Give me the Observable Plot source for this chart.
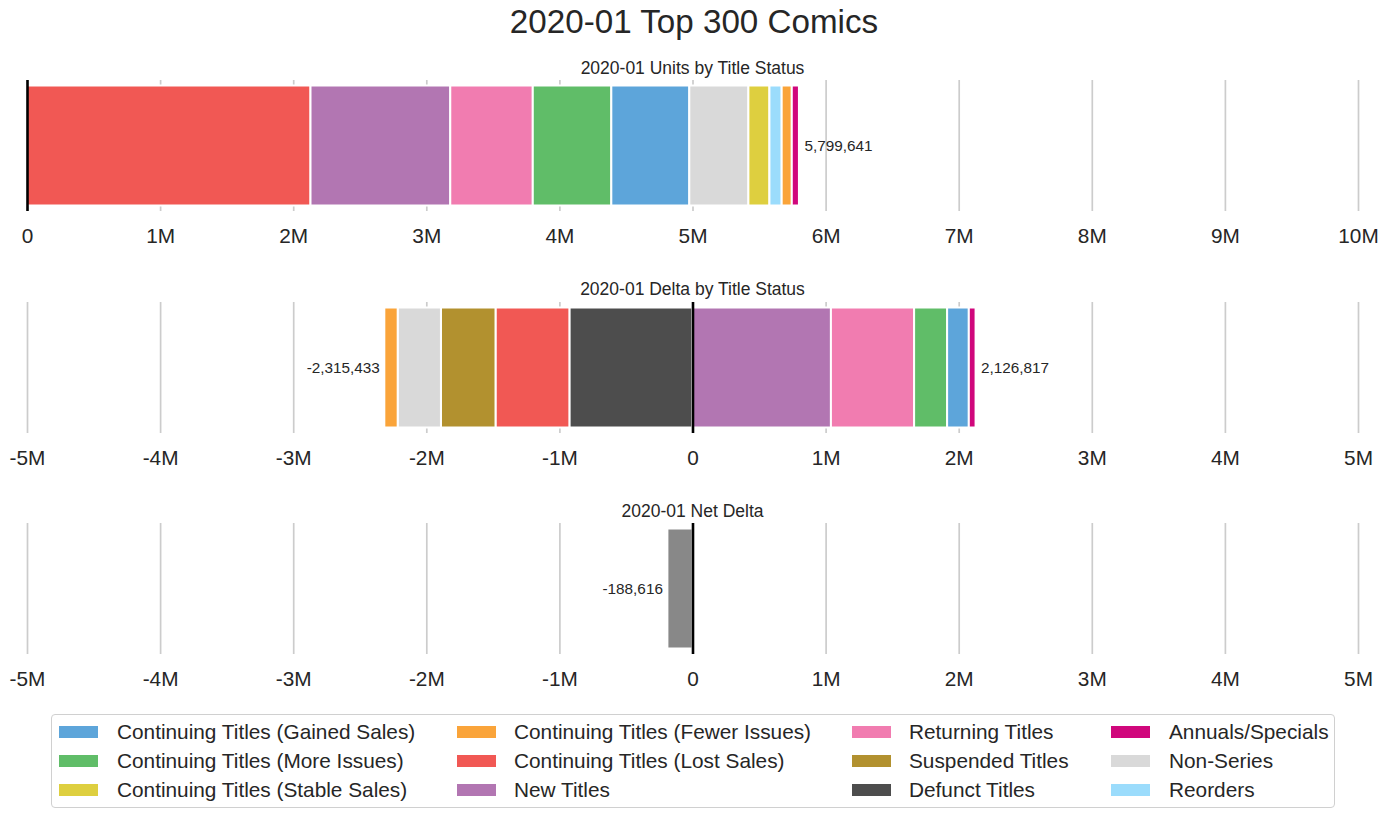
<!DOCTYPE html>
<html>
<head>
<meta charset="utf-8">
<script src="https://cdn.jsdelivr.net/npm/d3@7"></script>
<script src="https://cdn.jsdelivr.net/npm/@observablehq/plot@0.6"></script>
<style>
  html, body { margin: 0; padding: 0; background: #fff; }
  #root { position: relative; width: 1388px; height: 818px; font-family: "Liberation Sans", Arial, sans-serif; color: #262626; overflow: hidden; }
  .lbl { position: absolute; white-space: nowrap; transform: translate(-50%, -50%); line-height: normal; }
  .panel { position: absolute; left: 0; }
  #legend { position: absolute; left: 51px; top: 714px; width: 1282px; height: 92px; border: 1.5px solid #d0d0d0; border-radius: 4px; background: #fff; }
  .sw { position: absolute; width: 39px; height: 12px; }
  .lt { position: absolute; font-size: 20.8px; white-space: nowrap; transform: translateY(-50%); line-height: normal; }
</style>
</head>
<body>
<div id="root"></div>
<script>
// ---- data ----
const legendNames = [
  "Continuing Titles (Gained Sales)", "Continuing Titles (More Issues)", "Continuing Titles (Stable Sales)",
  "Continuing Titles (Fewer Issues)", "Continuing Titles (Lost Sales)", "New Titles",
  "Returning Titles", "Suspended Titles", "Defunct Titles",
  "Annuals/Specials", "Non-Series", "Reorders"
];
const legendColors = [
  "#5DA5DA", "#60BD68", "#DECF3F",
  "#FAA43A", "#F15854", "#B276B2",
  "#F17CB0", "#B2912F", "#4D4D4D",
  "#D0077C", "#D9D9D9", "#9BDCFC"
];
const unitsStatus = ["Continuing Titles (Lost Sales)", "New Titles", "Returning Titles", "Continuing Titles (More Issues)",
  "Continuing Titles (Gained Sales)", "Non-Series", "Continuing Titles (Stable Sales)", "Reorders",
  "Continuing Titles (Fewer Issues)", "Annuals/Specials"];
const unitsValues = [2130000, 1050000, 620000, 590000, 586000, 444000, 158000, 92000, 76000, 53641];
const unitsTotal = [5799641];

const deltaStatus = ["Defunct Titles", "Continuing Titles (Lost Sales)", "Suspended Titles", "Non-Series",
  "Continuing Titles (Fewer Issues)", "New Titles", "Returning Titles", "Continuing Titles (More Issues)",
  "Continuing Titles (Gained Sales)", "Annuals/Specials"];
const deltaValues = [-925000, -555000, -410000, -325000, -100433, 1040000, 625000, 248000, 163000, 50817];
const deltaTotals = [-2315433, 2126817];

const netValues = [-188616];
const netColor = "#888888";

const unitsTicks = [0, 1e6, 2e6, 3e6, 4e6, 5e6, 6e6, 7e6, 8e6, 9e6, 10e6];
const deltaTicks = [-5e6, -4e6, -3e6, -2e6, -1e6, 0, 1e6, 2e6, 3e6, 4e6, 5e6];

const mainTitle = "2020-01 Top 300 Comics";
const subTitles = ["2020-01 Units by Title Status", "2020-01 Delta by Title Status", "2020-01 Net Delta"];

// ---- build ----
const colorOf = Object.fromEntries(legendNames.map((n, i) => [n, legendColors[i]]));
const root = document.getElementById("root");
const FONT = "'Liberation Sans', Arial, sans-serif";
const tickFmt = d => d === 0 ? "0" : (d / 1e6) + "M";
const numFmt = d => (d < 0 ? "-" : "") + d3.format(",")(Math.abs(d));

function addLabel(text, x, y, size) {
  const el = document.createElement("div");
  el.className = "lbl";
  el.textContent = text;
  el.style.left = x + "px";
  el.style.top = y + "px";
  el.style.fontSize = size + "px";
  root.appendChild(el);
}

function panel({ data, domain, ticks, top, totals }) {
  const textOpts = { x: d => d, frameAnchor: "middle", text: d => numFmt(d), fontSize: 15.3, fill: "#262626" };
  const chart = Plot.plot({
    width: 1388, height: 192,
    marginLeft: 27, marginRight: 30, marginTop: 20, marginBottom: 41,
    x: { domain, label: null },
    y: { domain: ["a"], axis: null, padding: 0 },
    color: { type: "identity" },
    style: { fontFamily: FONT, color: "#262626", background: "transparent", overflow: "visible" },
    marks: [
      Plot.gridX(ticks, { stroke: "#cccccc", strokeOpacity: 1, strokeWidth: 1.7 }),
      Plot.barX(data, { x: "value", y: () => "a", fill: "color", stroke: "white", strokeWidth: 2, insetTop: 5.5, insetBottom: 5.5 }),
      Plot.ruleX([0], { stroke: "black", strokeWidth: 2.6 }),
      Plot.axisX(ticks, { tickSize: 0, tickPadding: 17, fontSize: 20.8, tickFormat: tickFmt }),
      Plot.text(totals.filter(d => d >= 0), { ...textOpts, textAnchor: "start", dx: 5 }),
      Plot.text(totals.filter(d => d < 0), { ...textOpts, textAnchor: "end", dx: -5 })
    ]
  });
  chart.classList.add("panel");
  chart.style.top = top + "px";
  root.appendChild(chart);
}

addLabel(mainTitle, 694, 21.5, 33.2);
addLabel(subTitles[0], 692.5, 67.5, 17.5);
addLabel(subTitles[1], 692.5, 289, 17.5);
addLabel(subTitles[2], 692.5, 511, 17.5);

panel({
  data: unitsStatus.map((s, i) => ({ status: s, value: unitsValues[i], color: colorOf[s] })),
  domain: [0, 10e6], ticks: unitsTicks, top: 60, totals: unitsTotal
});
panel({
  data: deltaStatus.map((s, i) => ({ status: s, value: deltaValues[i], color: colorOf[s] })),
  domain: [-5e6, 5e6], ticks: deltaTicks, top: 282, totals: deltaTotals
});
panel({
  data: netValues.map(v => ({ status: "Net", value: v, color: netColor })),
  domain: [-5e6, 5e6], ticks: deltaTicks, top: 503, totals: netValues
});

// legend
const legend = document.createElement("div");
legend.id = "legend";
root.appendChild(legend);
const colSw = [59, 457, 852, 1111];
const colTx = [117, 514, 909, 1169];
const rowY = [731.5, 761, 790];
legendNames.forEach((name, i) => {
  const c = Math.floor(i / 3), r = i % 3;
  const sw = document.createElement("div");
  sw.className = "sw";
  sw.style.left = colSw[c] + "px";
  sw.style.top = (rowY[r] - 6) + "px";
  sw.style.background = legendColors[i];
  root.appendChild(sw);
  const tx = document.createElement("div");
  tx.className = "lt";
  tx.textContent = name;
  tx.style.left = colTx[c] + "px";
  tx.style.top = rowY[r] + "px";
  root.appendChild(tx);
});
</script>
</body>
</html>
